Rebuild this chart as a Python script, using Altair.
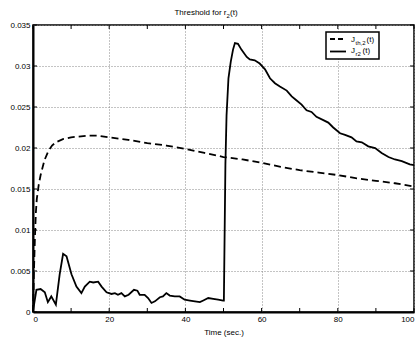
import altair as alt
import pandas as pd

# J_r2(t) solid curve
t_r = [0, 0.9, 2, 3.1, 3.9, 4.8, 6, 7, 7.9, 8.8, 10.1, 11.4, 12.7, 13.6, 14.9, 15.8, 17.1, 18,
       19.3, 20.6, 21.5, 22.3, 23.2, 24.1, 25.1, 26.5, 27.4, 28, 29.3, 30.2, 31.1, 32, 33.3, 34.1,
       35, 35.9, 37.2, 38.5, 39.8, 41.2, 42.5, 43.8, 44.7, 46, 47.3, 48.6, 49.9, 50.1, 50.5, 50.8,
       51.3, 51.9, 52.5, 53, 53.8, 54.7, 56.1, 56.9, 58.2, 59.5, 60.9, 62.2, 63.5, 64.8, 66.6,
       67.9, 69.2, 70.5, 71.8, 73.1, 74.4, 76.2, 77.5, 78.8, 80.6, 81.9, 83.6, 84.9, 86.3, 88,
       89.8, 91.5, 93.3, 95, 96.8, 98.9, 100]
j_r = [0.0001, 0.0027, 0.0028, 0.0024, 0.0012, 0.0019, 0.0009, 0.0046, 0.0071, 0.0068, 0.0046,
       0.0031, 0.0023, 0.0031, 0.0037, 0.0036, 0.0037, 0.0031, 0.0024, 0.0022, 0.0023, 0.0021,
       0.0023, 0.0019, 0.0021, 0.0027, 0.0026, 0.0021, 0.0021, 0.0017, 0.0011, 0.0013, 0.0018,
       0.0019, 0.0023, 0.0020, 0.0019, 0.0019, 0.0015, 0.0014, 0.0013, 0.0012, 0.0014, 0.0017,
       0.0016, 0.0015, 0.0014, 0.0014, 0.0180, 0.0240, 0.0285, 0.0305, 0.0320, 0.0328, 0.0327,
       0.0320, 0.0311, 0.0308, 0.0307, 0.0303, 0.0296, 0.0285, 0.0279, 0.0275, 0.0270, 0.0263,
       0.0258, 0.0253, 0.0246, 0.0244, 0.0238, 0.0234, 0.0231, 0.0225, 0.0218, 0.0216, 0.0213,
       0.0208, 0.0207, 0.0202, 0.0200, 0.0194, 0.0189, 0.0186, 0.0184, 0.0180, 0.0179]

# J_th,2(t) dashed curve
t_th = [0, 0.25, 0.5, 0.75, 1, 1.5, 2, 3, 4, 5, 6, 8, 10, 12, 14, 17, 20, 25, 30, 35, 40, 45,
        50, 55, 60, 65, 70, 75, 80, 85, 90, 95, 100]
j_th = [0, 0.005, 0.009, 0.0121, 0.0138, 0.0155, 0.0167, 0.0185, 0.0196, 0.0203, 0.0207, 0.0211,
        0.0213, 0.0214, 0.0215, 0.0215, 0.0213, 0.0210, 0.0206, 0.0203, 0.0199, 0.0194, 0.0189,
        0.0186, 0.0182, 0.0177, 0.0173, 0.0170, 0.0167, 0.0163, 0.0160, 0.0157, 0.0153]

x_ticks = [0, 10, 20, 30, 40, 50, 60, 70, 80, 90, 100]
y_ticks = [0, 0.005, 0.01, 0.015, 0.02, 0.025, 0.03, 0.035]

W, H = 381, 287
FONT = "Liberation Sans"

df_r = pd.DataFrame({"t": t_r, "j": j_r})
df_th = pd.DataFrame({"t": t_th, "j": j_th})
df_xt = pd.DataFrame({"t": x_ticks})
df_yt = pd.DataFrame({"j": y_ticks})
one = pd.DataFrame({"a": [0]})

xs = alt.Scale(domain=[0, 100], nice=False, zero=False)
ys = alt.Scale(domain=[0, 0.035], nice=False, zero=False)

x_axis = alt.Axis(values=x_ticks, format="d", title="Time (sec.)", labelPadding=3,
                  titlePadding=5)
y_axis = alt.Axis(values=y_ticks, format="~g", title=None, labelPadding=3)

dashed = alt.Chart(df_th).mark_line(color="black", strokeWidth=1.8, strokeDash=[7, 4]).encode(
    x=alt.X("t:Q", scale=xs, axis=x_axis),
    y=alt.Y("j:Q", scale=ys, axis=y_axis),
)
solid = alt.Chart(df_r).mark_line(color="black", strokeWidth=1.8).encode(
    x=alt.X("t:Q", scale=xs),
    y=alt.Y("j:Q", scale=ys),
)

tk = dict(color="black", strokeWidth=1)
tick_b = alt.Chart(df_xt).mark_rule(**tk).encode(x=alt.X("t:Q", scale=xs), y=alt.value(H), y2=alt.value(H - 4))
tick_t = alt.Chart(df_xt).mark_rule(**tk).encode(x=alt.X("t:Q", scale=xs), y=alt.value(0), y2=alt.value(4))
tick_l = alt.Chart(df_yt).mark_rule(**tk).encode(y=alt.Y("j:Q", scale=ys), x=alt.value(0), x2=alt.value(4))
tick_r = alt.Chart(df_yt).mark_rule(**tk).encode(y=alt.Y("j:Q", scale=ys), x=alt.value(W), x2=alt.value(W - 4))

# legend (manual, with subscripts)
leg_box = alt.Chart(one).mark_rect(fill="white", stroke="black", strokeWidth=1.5).encode(
    x=alt.value(293), x2=alt.value(346), y=alt.value(7), y2=alt.value(34))
leg_dash = alt.Chart(one).mark_rule(color="black", strokeWidth=1.8, strokeDash=[5, 3]).encode(
    x=alt.value(297), x2=alt.value(313), y=alt.value(14))
leg_solid = alt.Chart(one).mark_rule(color="black", strokeWidth=1.8).encode(
    x=alt.value(297), x2=alt.value(313), y=alt.value(26.5))


def txt(s, x, y, size, align="left"):
    return alt.Chart(one).mark_text(text=s, align=align, baseline="alphabetic", font=FONT,
                                    fontSize=size, color="black").encode(
        x=alt.value(x), y=alt.value(y))


legend_txt = [
    txt("J", 318, 16.5, 8), txt("th,2", 322.5, 19.5, 6), txt("(t)", 333.5, 16.5, 8),
    txt("J", 318, 28, 8), txt("r2", 322.5, 31, 6), txt("(t)", 329.5, 28, 8),
]

# title with subscript
title_txt = [
    txt("Threshold for r", W / 2 + 3, -10, 8, align="right"),
    txt("2", W / 2 + 3, -7.5, 6),
    txt("(t)", W / 2 + 6.5, -10, 8),
]

chart = alt.layer(
    dashed, solid, tick_b, tick_t, tick_l, tick_r, leg_box, leg_dash, leg_solid,
    *legend_txt, *title_txt
).properties(
    width=W, height=H,
    autosize=alt.AutoSizeParams(type="none"),
    padding={"left": 33, "top": 25, "right": 5, "bottom": 31},
).configure_view(
    stroke="black", strokeWidth=1.5
).configure_axis(
    domainColor="black", domainWidth=2, tickSize=0, labelFont=FONT, labelFontSize=8,
    labelColor="black", titleFont=FONT, titleFontSize=8, titleFontWeight="normal",
    titleColor="black", grid=True, gridColor="#888", gridDash=[1, 2], gridWidth=1,
)

chart.save("out.html", embed_options={"renderer": "svg", "actions": False})
